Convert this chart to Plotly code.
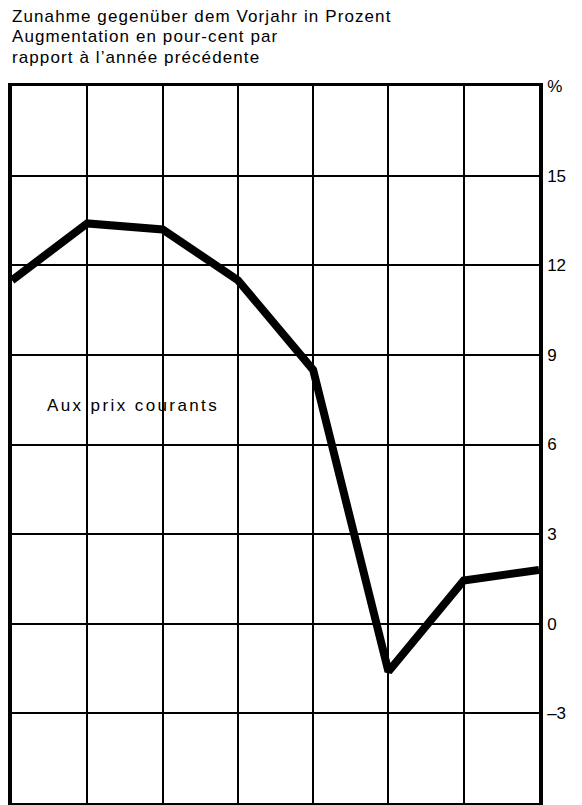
import plotly.graph_objects as go

# Year-on-year change, percent (current prices)
positions = [0, 1, 2, 3, 4, 5, 6, 7]
change_pct = [11.5, 13.4, 13.2, 11.5, 8.5, -1.6, 1.45, 1.8]

y_ticks = [-3, 0, 3, 6, 9, 12, 15, 18]
y_tick_text = ["–3", "0", "3", "6", "9", "12", "15", "%"]

title_lines = [
    "Zunahme gegenüber dem Vorjahr in Prozent",
    "Augmentation en pour-cent par",
    "rapport à l’année précédente",
]
series_label = "Aux prix courants"

W, H = 582, 805
M_L, M_R, M_T, M_B = 12, 43, 86, 2
plot_h = H - M_T - M_B

fig = go.Figure()
fig.add_trace(go.Scatter(
    x=positions, y=change_pct, mode="lines",
    line=dict(color="black", width=8),
    showlegend=False, hoverinfo="skip", cliponaxis=True,
))

font_family = "Liberation Sans, Arial, sans-serif"


def spaced(txt, px):
    return f'<span style="letter-spacing:{px}px">{txt}</span>'


fig.update_layout(
    width=W, height=H,
    margin=dict(l=M_L, r=M_R, t=M_T, b=M_B, pad=0),
    paper_bgcolor="white", plot_bgcolor="white",
    font=dict(family=font_family, size=16, color="black"),
    xaxis=dict(
        range=[0, 7], tickvals=positions, showticklabels=False,
        showgrid=True, gridcolor="black", gridwidth=1.6,
        zeroline=False, showline=True, linecolor="black", linewidth=3,
        mirror=True, ticks="",
    ),
    yaxis=dict(
        range=[-6, 18], side="right", tickvals=y_ticks, ticktext=y_tick_text,
        showgrid=True, gridcolor="black", gridwidth=1.6,
        zeroline=False, showline=True, linecolor="black", linewidth=3.5,
        mirror=True, ticks="", ticklabelstandoff=1,
        tickfont=dict(size=17, family=font_family),
    ),
)

line_gap = 20.5
for i, txt in enumerate(title_lines):
    y_px = 16 + i * line_gap
    fig.add_annotation(
        text=spaced(txt, 1.1), xref="paper", yref="paper",
        x=0, y=1 + (M_T - y_px) / plot_h, xshift=-2,
        xanchor="left", yanchor="middle", showarrow=False,
        font=dict(size=17, family=font_family, color="black"),
    )

fig.add_annotation(
    text=spaced(series_label, 2.4), xref="paper", yref="y",
    x=(45 - M_L) / (W - M_L - M_R), y=7.3,
    xanchor="left", yanchor="middle", showarrow=False,
    font=dict(size=17, family=font_family, color="black"),
)

fig.write_html("out.html")
